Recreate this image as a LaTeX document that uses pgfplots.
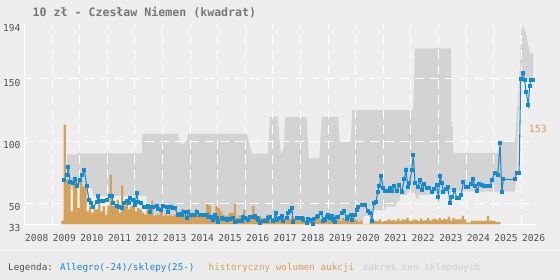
\documentclass[border=0pt]{standalone}
\usepackage{pgfplots}
\pgfplotsset{compat=1.18}
\usepackage{fontspec}
\setmainfont{DejaVu Sans Mono}
\definecolor{bgc}{RGB}{238,238,238}
\definecolor{legbg}{RGB}{235,235,235}
\definecolor{shopc}{RGB}{211,211,211}
\definecolor{barc}{RGB}{213,160,87}
\definecolor{linec}{RGB}{20,137,206}
\definecolor{labc}{RGB}{80,80,80}
\definecolor{titc}{RGB}{119,119,119}
\definecolor{lgray}{RGB}{204,204,204}
\newcommand\tickfont{\fontsize{9.6}{11}\selectfont}
\pgfplotsset{
  base/.style={scale only axis, width=511.5pt, height=200.5pt,
    at={(24.5pt,55.5pt)}, anchor=south west, xmin=2008, xmax=2026.53,
    axis line style={draw=none}, major tick length=0pt, tick style={draw=none}},
  price/.style={ymin=33, ymax=194},
}
\begin{document}
\begin{tikzpicture}
\fill[bgc] (0,0) rectangle (560pt,280pt);
\useasboundingbox (0,0) rectangle (560pt,280pt);
\fill[legbg] (0,0) rectangle (560pt,29pt);
\draw[white!70!bgc, line width=1.5pt] (0,29.5pt) -- (560pt,29.5pt);

% shop price range
\begin{axis}[base, price, xtick=\empty, ytick={194}, yticklabels={194},
  yticklabel style={anchor=east, inner sep=0pt, xshift=-3.8pt, yshift=-3.8pt, font=\tickfont, text=labc}]
\addplot[fill=shopc, draw=none] coordinates {
(2009.54,89.3) (2009.89,89.3) (2009.90,90.2) (2012.25,90.2) (2012.27,106) (2013.55,106)
(2013.62,99) (2013.75,97.5) (2013.85,99) (2013.93,106) (2016.06,106) (2016.15,97) (2016.24,90)
(2016.82,90) (2016.89,119.5) (2017.18,119.5) (2017.24,100) (2017.30,88.8) (2017.40,96)
(2017.44,119.5) (2018.22,119.5) (2018.30,86) (2018.68,86) (2018.77,119.5) (2019.36,119.5)
(2019.42,99.5) (2019.82,99.5) (2019.87,124.9) (2022.08,124.9) (2022.15,174.4) (2023.45,174.4)
(2023.47,111.5) (2023.52,111.5) (2023.54,90.5) (2025.16,90.5) (2025.22,94) (2025.28,97)
(2025.34,99.5) (2025.772,99.5) (2025.833,122) (2025.891,138) (2025.953,161) (2026.01,194)
(2026.07,192) (2026.13,189) (2026.19,183.7) (2026.25,177) (2026.31,170.4) (2026.435,170.4)
(2026.435,148) (2025.953,148) (2025.891,120) (2025.833,77) (2025.772,59.3) (2023.45,59.3)
(2023.40,58) (2022.66,58) (2022.64,56.7) (2022.30,56.7) (2022.28,54) (2022.18,54) (2022.15,58.5)
(2021.87,58.5) (2021.85,56.7) (2021.62,56.7) (2021.58,51.3) (2021.50,51.3) (2021.45,47.3)
(2021.10,47.3) (2021.05,44.6) (2020.60,44.6) (2020.55,40) (2020.30,40) (2020.25,35) (2015.05,35)
(2015.00,38) (2012.47,38) (2012.42,56) (2010.50,56) (2010.45,62) (2009.54,62)};
\end{axis}

% grid and labels
\begin{axis}[base, price,
  xtick={2009,2010,2011,2012,2013,2014,2015,2016,2017,2018,2019,2020,2021,2022,2023,2024,2025,2026},
  xticklabels={2009,2010,2011,2012,2013,2014,2015,2016,2017,2018,2019,2020,2021,2022,2023,2024,2025,2026},
  extra x ticks={2008}, extra x tick labels={2008},
  ytick={50,100,150}, yticklabels={50,100,150},
  extra y ticks={33}, extra y tick labels={33},
  grid=major,
  major grid style={white, line width=1pt, dash pattern=on 9pt off 6pt},
  extra x tick style={major grid style={white, line width=1pt, solid}},
  extra y tick style={major grid style={white, line width=1pt, solid}},
  xticklabel style={anchor=north west, inner sep=0pt, xshift=0.5pt, yshift=-10pt, font=\tickfont, text=labc},
  yticklabel style={anchor=east, inner sep=0pt, xshift=-3.8pt, yshift=-3.8pt, font=\tickfont, text=labc},
  xtick pos=bottom, ytick pos=left]
\end{axis}

% auction volume
\begin{axis}[base, ymin=0, ymax=306.8, hide axis]
\addplot[ybar interval, fill=barc, draw=none] coordinates {
(2009.333,6) (2009.417,153) (2009.5,69) (2009.583,66) (2009.667,20) (2009.75,73) (2009.833,70) (2009.917,25)
(2010,71) (2010.083,58) (2010.167,58) (2010.25,20) (2010.333,28) (2010.417,18) (2010.5,23) (2010.583,23) (2010.667,33) (2010.75,20) (2010.833,28) (2010.917,15)
(2011,29) (2011.083,76) (2011.167,28) (2011.25,30) (2011.333,38) (2011.417,18) (2011.5,60) (2011.583,28) (2011.667,36) (2011.75,23) (2011.833,28) (2011.917,36)
(2012,20) (2012.083,26) (2012.167,23) (2012.25,18) (2012.333,15) (2012.417,23) (2012.5,20) (2012.583,36) (2012.667,13) (2012.75,15) (2012.833,15) (2012.917,24)
(2013,13) (2013.083,15) (2013.167,13) (2013.25,15) (2013.333,13) (2013.417,15) (2013.5,15) (2013.583,13) (2013.667,24) (2013.75,15) (2013.833,13) (2013.917,24)
(2014,15) (2014.083,13) (2014.167,24) (2014.25,15) (2014.333,13) (2014.417,15) (2014.5,15) (2014.583,31) (2014.667,29) (2014.75,13) (2014.833,15) (2014.917,28)
(2015,25) (2015.083,20) (2015.167,15) (2015.25,13) (2015.333,14) (2015.417,18) (2015.5,18) (2015.583,32) (2015.667,10) (2015.75,14) (2015.833,14) (2015.917,22)
(2016,10) (2016.083,14) (2016.167,14) (2016.25,29) (2016.333,13) (2016.417,10) (2016.5,13) (2016.583,9) (2016.667,10) (2016.75,15) (2016.833,8) (2016.917,10)
(2017,5) (2017.083,9) (2017.167,10) (2017.25,8) (2017.333,12) (2017.417,6) (2017.5,10) (2017.583,8) (2017.667,12) (2017.75,9) (2017.833,7) (2017.917,10)
(2018,6) (2018.083,8) (2018.167,5) (2018.25,10) (2018.333,7) (2018.417,9) (2018.5,6) (2018.583,11) (2018.667,8) (2018.75,6) (2018.833,9) (2018.917,7)
(2019,8) (2019.083,10) (2019.167,7) (2019.25,6) (2019.333,9) (2019.417,5) (2019.5,10) (2019.583,7) (2019.667,12) (2019.75,6) (2019.833,8) (2019.917,9)
(2020,7) (2020.083,4) (2020.167,6) (2020.25,1) (2020.333,1) (2020.417,1) (2020.5,5) (2020.583,3) (2020.667,6) (2020.75,5) (2020.833,8) (2020.917,4)
(2021,5) (2021.083,6) (2021.167,8) (2021.25,6) (2021.333,7) (2021.417,5) (2021.5,9) (2021.583,6) (2021.667,8) (2021.75,7) (2021.833,10) (2021.917,6)
(2022,6) (2022.083,8) (2022.167,7) (2022.25,5) (2022.333,9) (2022.417,6) (2022.5,7) (2022.583,10) (2022.667,6) (2022.75,8) (2022.833,9) (2022.917,7)
(2023,10) (2023.083,7) (2023.167,9) (2023.25,8) (2023.333,12) (2023.417,6) (2023.5,10) (2023.583,8) (2023.667,8) (2023.75,8) (2023.833,13) (2023.917,8)
(2024,3) (2024.083,3) (2024.167,6) (2024.25,5) (2024.333,6) (2024.417,5) (2024.5,6) (2024.583,5) (2024.667,6) (2024.75,13) (2024.833,6) (2024.917,6)
(2025,5) (2025.083,4) (2025.167,4) (2025.25,4)};
\end{axis}

% price line
\begin{axis}[base, price, hide axis]
\addplot[color=linec, line width=1.05pt, mark=square*, mark size=1.5pt, mark options={solid, fill=linec}] coordinates {
(2009.442,68.7) (2009.529,72.5) (2009.587,79) (2009.649,67.3) (2009.746,66) (2009.830,69.3) (2009.913,64.1)
(2010.011,68.7) (2010.094,72.7) (2010.167,77) (2010.254,64) (2010.337,52.6) (2010.420,50) (2010.493,46.8)
(2010.616,51.3) (2010.674,55.9) (2010.736,51.5) (2010.855,51.8) (2010.978,52.6) (2011.098,55.5) (2011.159,56)
(2011.217,50) (2011.341,47.8) (2011.424,47.3) (2011.522,46.5) (2011.605,50) (2011.703,51.6) (2011.786,50.5)
(2011.833,54.5) (2011.942,52.6) (2012.004,48.6) (2012.065,58) (2012.123,51.3) (2012.221,50.5) (2012.341,46.8)
(2012.420,46.8) (2012.486,47.8) (2012.547,43.3) (2012.609,47) (2012.667,46.8) (2012.790,47.8) (2012.848,45.2)
(2012.946,44.6) (2013.029,47.8) (2013.152,46.8) (2013.210,43.3) (2013.308,46.8) (2013.391,46) (2013.453,46)
(2013.551,40.6) (2013.634,41.5) (2013.696,41) (2013.790,43.3) (2013.877,38) (2013.935,42.8) (2014.033,41)
(2014.116,41) (2014.178,40.6) (2014.239,43.3) (2014.359,41) (2014.478,40.6) (2014.601,40.6) (2014.659,39.3)
(2014.757,38.8) (2014.819,36.6) (2014.902,40.6) (2014.964,38) (2015.022,35.2) (2015.145,38) (2015.203,37.5)
(2015.326,37) (2015.446,37.5) (2015.565,38) (2015.627,35.2) (2015.746,35.7) (2015.870,35.7) (2015.928,39.3)
(2015.989,38) (2016.109,37) (2016.170,39) (2016.290,39.3) (2016.351,39.8) (2016.413,38) (2016.471,37)
(2016.533,34.4) (2016.652,35.7) (2016.775,36) (2016.833,38) (2016.895,39) (2017.014,36) (2017.101,42.5)
(2017.138,37) (2017.257,38) (2017.319,39.8) (2017.377,36) (2017.500,38) (2017.558,42) (2017.620,44)
(2017.681,46) (2017.739,35.2) (2017.862,38.5) (2017.920,38) (2018.043,38) (2018.101,37) (2018.225,34)
(2018.283,37.5) (2018.344,36.3) (2018.442,33.4) (2018.500,37.5) (2018.587,39.3) (2018.645,39.8) (2018.743,42.5)
(2018.826,35.8) (2018.888,37) (2018.949,39.3) (2019.007,40.6) (2019.069,38) (2019.152,39.8) (2019.188,37)
(2019.250,35.2) (2019.312,39.3) (2019.370,39.3) (2019.493,42.5) (2019.587,43.8) (2019.674,37.5) (2019.732,39.3)
(2019.830,40.6) (2019.877,36.3) (2019.975,40.6) (2020.036,44.6) (2020.094,46.8) (2020.217,48.6) (2020.337,48.6)
(2020.435,44) (2020.518,42.5) (2020.580,36) (2020.663,50) (2020.736,51.3) (2020.797,59.3) (2020.855,63.9)
(2020.917,72) (2021.000,62) (2021.062,60) (2021.181,60) (2021.243,62) (2021.315,60) (2021.399,63.9)
(2021.486,60) (2021.569,64.7) (2021.667,59.3) (2021.761,69.3) (2021.822,76.7) (2021.884,63.3) (2021.942,66)
(2022.029,76.7) (2022.087,88.8) (2022.149,66) (2022.246,63.3) (2022.330,68.7) (2022.413,60.7) (2022.486,65.5)
(2022.572,62) (2022.667,62) (2022.754,59.3) (2022.848,61.2) (2022.935,64.7) (2022.993,54.8) (2023.054,72)
(2023.116,66.5) (2023.174,59.3) (2023.261,61.2) (2023.333,63.3) (2023.417,50.5) (2023.500,55.3) (2023.572,60.7)
(2023.659,54.5) (2023.743,54) (2023.815,56.7) (2023.899,67.3) (2023.996,63.3) (2024.080,62.8) (2024.167,65.5)
(2024.239,69.3) (2024.322,64.1) (2024.406,60.1) (2024.478,65.5) (2024.565,64.7) (2024.659,64.1) (2024.757,64)
(2024.866,63.9) (2024.928,68.7) (2025.047,74.6) (2025.145,72.7) (2025.228,98.2) (2025.290,59.3) (2025.348,69.3)
(2025.772,69.3) (2025.833,74.6) (2025.917,74.6) (2025.978,149.5) (2026.072,154.5) (2026.116,149) (2026.170,139.6)
(2026.254,128.9) (2026.297,144) (2026.341,149) (2026.435,149)};
\end{axis}

\node[anchor=north west, inner sep=0pt, text=barc, font=\fontsize{10}{12}\selectfont] at (528.7pt,154.8pt) {153};
\node[anchor=base west, inner sep=0pt, text=titc, font=\bfseries\fontsize{11.6}{13}\selectfont] at (32.5pt,263.3pt) {10 zł - Czesław Niemen (kwadrat)};
\begin{scope}[every node/.style={anchor=base west, inner sep=0pt, font=\fontsize{9.3}{11}\selectfont}]
\node[text=labc] at (8pt,9.5pt) {Legenda:};
\node[text=linec] at (60pt,9.5pt) {Allegro(-24)/sklepy(25-)};
\node[text=barc] at (208.5pt,9.5pt) {historyczny wolumen aukcji};
\node[text=lgray] at (362.5pt,9.5pt) {zakres cen sklepowych};
\end{scope}
\end{tikzpicture}
\end{document}
